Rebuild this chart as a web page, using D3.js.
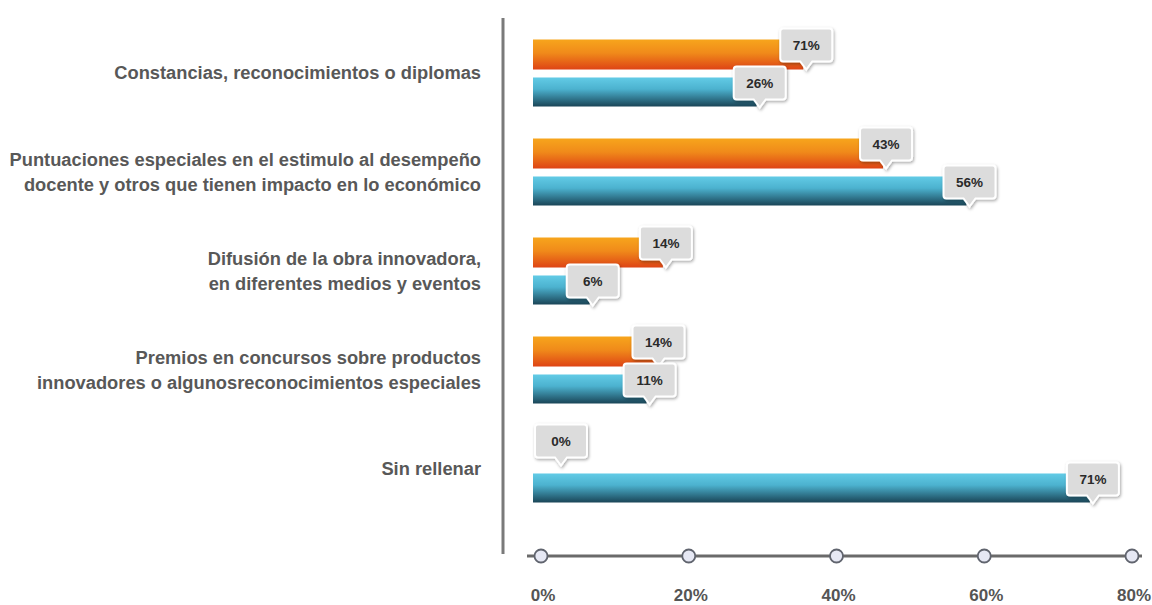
<!DOCTYPE html>
<html>
<head>
<meta charset="utf-8">
<script src="https://cdn.jsdelivr.net/npm/d3@7"></script>
<style>
  body { margin: 0; background: #fff; }
  text { font-family: "Liberation Sans", Arial, sans-serif; }
</style>
</head>
<body>
<div id="chart"></div>
<script>
// categories (lines of each label)
const categories = [
  ["Constancias, reconocimientos o diplomas"],
  ["Puntuaciones especiales en el estimulo al desempeño", "docente y otros que tienen impacto en lo económico"],
  ["Difusión de la obra innovadora,", "en diferentes medios y eventos"],
  ["Premios en concursos sobre productos", "innovadores o algunosreconocimientos especiales"],
  ["Sin rellenar"]
];
const series = ["orange", "teal"];
// bar lengths as drawn (percent of axis)
const orangeValues = [35.5, 46.3, 16.5, 15.5, 0];
const tealValues = [29.2, 57.6, 6.6, 14.3, 74.3];
// labels printed in the callouts
const orangeLabels = ["71%", "43%", "14%", "14%", "0%"];
const tealLabels = ["26%", "56%", "6%", "11%", "71%"];
const xTicks = [0, 20, 40, 60, 80];

const width = 1152, height = 605;
const svg = d3.select("#chart").append("svg")
  .attr("width", width).attr("height", height);

const defs = svg.append("defs");
function grad(id, stops) {
  const g = defs.append("linearGradient").attr("id", id)
    .attr("x1", 0).attr("y1", 0).attr("x2", 0).attr("y2", 1);
  stops.forEach(s => g.append("stop").attr("offset", s[0]).attr("stop-color", s[1]));
}
grad("gOrange", [[0, "#f7a51c"], [0.45, "#f08a1a"], [1, "#de4415"]]);
grad("gTeal", [[0, "#62cbe6"], [0.4, "#4cb2cf"], [1, "#1a4557"]]);
const sh = defs.append("filter").attr("id", "shadow")
  .attr("x", "-30%").attr("y", "-30%").attr("width", "160%").attr("height", "170%");
sh.append("feDropShadow").attr("dx", 1).attr("dy", 1.5).attr("stdDeviation", 1.5)
  .attr("flood-color", "#000").attr("flood-opacity", 0.35);

// scales
const x = d3.scaleLinear().domain([0, 80]).range([541, 1132]);
const barStart = x(0) - 8;
const y = d3.scaleBand().domain(d3.range(categories.length)).range([23.5, 518.5]);
const ySub = d3.scaleBand().domain(series).range([16, 84]).paddingInner(0.21);

const rows = categories.map((c, i) => ({
  i, lines: c,
  bars: [
    { s: "orange", v: orangeValues[i], label: orangeLabels[i] },
    { s: "teal", v: tealValues[i], label: tealLabels[i] }
  ]
}));

// vertical axis line
svg.append("line")
  .attr("x1", 503).attr("x2", 503).attr("y1", 18).attr("y2", 554)
  .attr("stroke", "#7a7a7a").attr("stroke-width", 3);

// category labels
rows.forEach(r => {
  const cy = y(r.i) + y.bandwidth() / 2;
  const lh = 25;
  const t = svg.append("text")
    .attr("text-anchor", "end")
    .attr("font-size", "18.3px").attr("font-weight", "bold")
    .attr("fill", "#585858");
  r.lines.forEach((l, k) => {
    t.append("tspan").attr("x", 481)
      .attr("y", cy + (k - (r.lines.length - 1) / 2) * lh + 6)
      .text(l);
  });
});

// bars
const g = svg.append("g");
rows.forEach(r => {
  r.bars.forEach(b => {
    if (b.v <= 0) return;
    g.append("rect")
      .attr("x", barStart)
      .attr("y", y(r.i) + ySub(b.s))
      .attr("width", x(b.v) - barStart)
      .attr("height", ySub.bandwidth() - (b.s === "teal" ? 1 : 0))
      .attr("fill", b.s === "orange" ? "url(#gOrange)" : "url(#gTeal)");
  });
});

// callouts
function calloutPath(cx, top, w, h, tipY) {
  const l = cx - w / 2, r = cx + w / 2, b = top + h, rr = 3;
  return `M${l + rr},${top} H${r - rr} Q${r},${top} ${r},${top + rr} V${b - rr} Q${r},${b} ${r - rr},${b}` +
    ` H${cx + 6} L${cx},${tipY} L${cx - 6},${b} H${l + rr} Q${l},${b} ${l},${b - rr} V${top + rr} Q${l},${top} ${l + rr},${top} Z`;
}
rows.forEach(r => {
  r.bars.forEach(b => {
    const by = y(r.i) + ySub(b.s);
    const bw = 52, bh = 33;
    const cx = Math.max(x(b.v) + 3, barStart + bw / 2 + 2);
    const top = by - 11;
    const c = svg.append("g");
    c.append("path")
      .attr("d", calloutPath(cx, top, bw, bh, by + ySub.bandwidth()))
      .attr("fill", "#dcdcdc").attr("stroke", "#fff").attr("stroke-width", 2)
      .attr("filter", "url(#shadow)");
    c.append("text")
      .attr("x", cx).attr("y", top + bh / 2 + 5)
      .attr("text-anchor", "middle")
      .attr("font-family", "'Open Sans', sans-serif")
      .attr("font-size", "13.5px").attr("font-weight", "bold")
      .attr("fill", "#2a2a2a")
      .text(b.label);
  });
});

// bottom axis with circle ticks
const axisY = 556;
svg.append("line")
  .attr("x1", 527).attr("x2", 1142).attr("y1", axisY).attr("y2", axisY)
  .attr("stroke", "#6a6a6a").attr("stroke-width", 3);
svg.selectAll("circle.tick").data(xTicks).enter().append("circle")
  .attr("class", "tick")
  .attr("cx", d => x(d)).attr("cy", axisY).attr("r", 6.5)
  .attr("fill", "#e6e8f4").attr("stroke", "#60646e").attr("stroke-width", 1.8);
svg.selectAll("text.xt").data(xTicks).enter().append("text")
  .attr("class", "xt")
  .attr("x", d => x(d) + 2).attr("y", 601)
  .attr("text-anchor", "middle")
  .attr("font-family", "'Open Sans', sans-serif")
  .attr("font-size", "17px").attr("font-weight", "bold")
  .attr("fill", "#555")
  .text(d => d + "%");
</script>
</body>
</html>
